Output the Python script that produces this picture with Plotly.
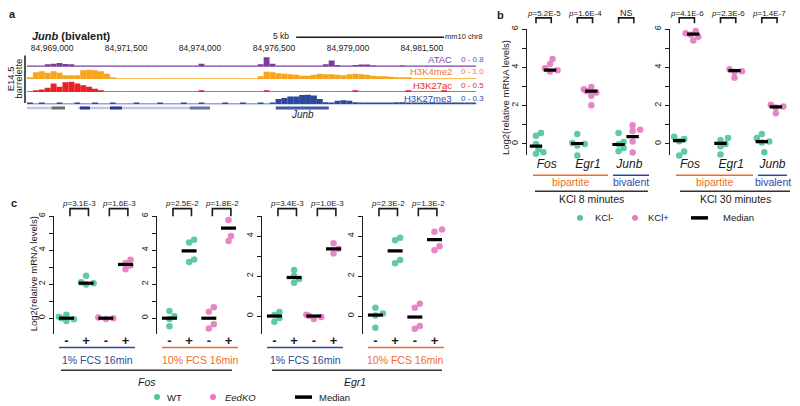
import plotly.graph_objects as go

W, H = 800, 406
FONT = "Liberation Sans, Arial, Helvetica, sans-serif"
INK = "#1a1a1a"
GREEN = "#4fc39b"
PINK = "#e679bf"
ORANGE = "#f26b2b"
BLUE = "#2e48a2"

# ---------------- panel a : genome browser tracks ----------------
GENOME_START = 84968150
GENOME_END = 84983330
BIN_BP = 200
coord_ticks = [84969000, 84971500, 84974000, 84976500, 84979000, 84981500]
track_names = ["ATAC", "H3K4me2", "H3K27ac", "H3K27me3"]
track_scales = ["0 - 0.8", "0 - 1.0", "0 - 0.5", "0 - 0.3"]
track_max = [0.8, 1.0, 0.5, 0.3]
track_fill = ["#7b3c9e", "#f8a51d", "#ec1f27", "#2b49a0"]
track_label_color = ["#8446a8", "#f37331", "#ec1f27", "#2b49a0"]

atac = [0.06, 0.06, 0.08, 0.2, 0.25, 0.3, 0.22, 0.2, 0.08, 0.06,
        0.06, 0.06, 0.06, 0.06, 0.06, 0.06, 0.06, 0.06, 0.06, 0.06,
        0.06, 0.06, 0.06, 0.06, 0.06, 0.06, 0.06, 0.06, 0.08, 0.25,
        0.06, 0.06, 0.06, 0.06, 0.06, 0.06, 0.06, 0.06, 0.1, 0.2,
        0.75, 0.25, 0.1, 0.06, 0.08, 0.06, 0.06, 0.06, 0.06, 0.08,
        0.2, 0.5, 0.15, 0.06, 0.06, 0.15, 0.18, 0.18, 0.12, 0.06,
        0.06, 0.06, 0.06, 0.12, 0.06, 0.06, 0.06, 0.06, 0.06, 0.06,
        0.1, 0.06, 0.06, 0.08, 0.06, 0.06]
h3k4me2 = [0.15, 0.7, 0.8, 0.65, 0.8, 0.65, 0.4, 0.4, 0.4, 0.9,
           0.95, 0.9, 0.8, 0.55, 0.2, 0.05, 0.05, 0.05, 0.05, 0.05,
           0.05, 0.05, 0.05, 0.05, 0.05, 0.05, 0.05, 0.05, 0.05, 0.05,
           0.05, 0.05, 0.05, 0.05, 0.05, 0.05, 0.05, 0.05, 0.05, 0.3,
           0.75, 0.7, 0.6, 0.55, 0.5, 0.45, 0.35, 0.35, 0.45, 0.55,
           0.5, 0.5, 0.45, 0.4, 0.5, 0.55, 0.5, 0.45, 0.35, 0.3,
           0.3, 0.25, 0.2, 0.15, 0.1, 0.05, 0.05, 0.05, 0.05, 0.05,
           0.05, 0.05, 0.05, 0.05, 0.05, 0.05]
h3k27ac = [0.03, 0.05, 0.12, 0.2, 0.4, 0.25, 0.45, 0.48, 0.4, 0.32,
           0.25, 0.15, 0.06, 0.04, 0.03, 0.03, 0.03, 0.03, 0.03, 0.03,
           0.03, 0.03, 0.03, 0.03, 0.03, 0.03, 0.03, 0.03, 0.03, 0.05,
           0.03, 0.03, 0.03, 0.03, 0.03, 0.03, 0.03, 0.03, 0.03, 0.03,
           0.08, 0.03, 0.03, 0.03, 0.03, 0.03, 0.03, 0.03, 0.03, 0.03,
           0.03, 0.03, 0.03, 0.03, 0.03, 0.05, 0.03, 0.03, 0.03, 0.03,
           0.03, 0.03, 0.03, 0.03, 0.05, 0.03, 0.03, 0.03, 0.03, 0.03,
           0.05, 0.03, 0.03, 0.03, 0.03, 0.03]
h3k27me3 = [0.03, 0.02, 0.03, 0.02, 0.02, 0.03, 0.02, 0.02, 0.03, 0.02,
            0.02, 0.03, 0.02, 0.02, 0.03, 0.02, 0.02, 0.02, 0.03, 0.02,
            0.02, 0.02, 0.03, 0.02, 0.02, 0.02, 0.03, 0.02, 0.02, 0.03,
            0.02, 0.02, 0.02, 0.03, 0.02, 0.02, 0.03, 0.02, 0.02, 0.03,
            0.02, 0.04, 0.15, 0.18, 0.22, 0.22, 0.26, 0.27, 0.25, 0.15,
            0.06, 0.04, 0.1, 0.12, 0.1, 0.06, 0.05, 0.04, 0.03, 0.04,
            0.03, 0.04, 0.06, 0.06, 0.04, 0.03, 0.05, 0.03, 0.06, 0.04,
            0.03, 0.05, 0.03, 0.04, 0.05, 0.03]
track_values = [atac, h3k4me2, h3k27ac, h3k27me3]

transcript_starts = [84968150, 84969873, 84976561]
transcript_ends = [84969434, 84974332, 84978352]
exon_starts = [84968984, 84969940, 84970954, 84973656, 84976561]
exon_ends = [84969434, 84970278, 84971359, 84974332, 84978352]
exon_colors = ["#6e6e6e", "#26378c", "#26378c", "#6a74a8", "#4a5aa2"]
scale_bar_start = 84977250
scale_bar_bp = 5000

# ---------------- panel b : KCl stimulation ----------------
b_genes = ["Fos", "Egr1", "Junb"]
kcl8_minus = [[0.57, 0.43, 0.0, -0.26, -0.43, -0.52],
              [0.52, 0.05, 0.0, -0.08, -0.6],
              [0.57, 0.1, -0.02, -0.22, -0.38]]
kcl8_plus = [[4.43, 4.17, 3.95, 3.85, 3.78],
             [2.97, 2.86, 2.76, 2.68, 2.52, 2.02],
             [0.98, 0.74, 0.68, 0.12, -0.45]]
kcl8_median_minus = [-0.12, 0.02, -0.03]
kcl8_median_plus = [3.85, 2.76, 0.38]
kcl8_p = ["<i>p</i>=5.2E-5", "<i>p</i>=1.6E-4", "NS"]

kcl30_minus = [[0.38, 0.26, 0.14, -0.4, -0.6],
               [0.31, 0.2, 0.0, -0.12, -0.55],
               [0.52, 0.31, 0.12, 0.08, -0.43, -0.69]]
kcl30_plus = [[5.9, 5.78, 5.7, 5.6, 5.4],
              [3.9, 3.8, 3.75, 3.45],
              [2.05, 1.95, 1.9, 1.6]]
kcl30_median_minus = [0.17, 0.03, 0.12]
kcl30_median_plus = [5.74, 3.83, 1.93]
kcl30_p = ["<i>p</i>=4.1E-6", "<i>p</i>=2.3E-6", "<i>p</i>=1.4E-7"]

# ---------------- panel c : FCS stimulation ----------------
c_tick_text = ["-", "+", "-", "+"]
c_group_colors = [GREEN, GREEN, PINK, PINK]
fos_1pct = [[0.2, 0.08, 0.0, -0.06, -0.17], [2.5, 2.12, 2.05, 1.98],
            [0.04, 0.0, -0.05], [3.44, 3.25, 3.1, 2.88]]
fos_1pct_median = [0.0, 2.06, 0.0, 3.16]
fos_1pct_p = ["<i>p</i>=3.1E-3", "<i>p</i>=1.6E-3"]
fos_10pct = [[0.43, 0.12, -0.05, -0.47], [4.62, 4.45, 3.45, 3.3],
             [0.65, 0.38, -0.35, -0.6], [5.77, 4.83, 4.54]]
fos_10pct_median = [0.0, 3.96, 0.0, 5.3]
fos_10pct_p = ["<i>p</i>=2.5E-2", "<i>p</i>=1.8E-2"]
egr1_1pct = [[0.2, 0.05, -0.1, -0.28], [2.3, 2.0, 1.85, 1.67],
             [0.07, 0.02, -0.05, -0.15], [3.64, 3.37, 3.14]]
egr1_1pct_median = [0.0, 1.93, 0.0, 3.36]
egr1_1pct_p = ["<i>p</i>=3.4E-3", "<i>p</i>=1.0E-3"]
egr1_10pct = [[0.41, 0.13, 0.03, -0.58], [3.92, 3.8, 2.81, 2.64],
              [0.61, 0.41, -0.5, -0.63], [4.33, 4.22, 3.5, 3.3]]
egr1_10pct_median = [0.05, 3.26, -0.05, 3.83]
egr1_10pct_p = ["<i>p</i>=2.3E-2", "<i>p</i>=1.3E-2"]
c_panels = [fos_1pct, fos_10pct, egr1_1pct, egr1_10pct]
c_medians = [fos_1pct_median, fos_10pct_median, egr1_1pct_median, egr1_10pct_median]
c_pvals = [fos_1pct_p, fos_10pct_p, egr1_1pct_p, egr1_10pct_p]
c_yranges = [[-0.93, 6.0], [-0.93, 6.0], [-0.9, 5.0], [-0.9, 5.0]]
c_labels = ["1% FCS 16min", "10% FCS 16min", "1% FCS 16min", "10% FCS 16min"]
c_label_colors = [BLUE, ORANGE, BLUE, ORANGE]
c_genes = ["Fos", "Egr1"]


# ---------------- helpers ----------------
def X(a, b):
    return [a / W, b / W]


def Y(top, bot):
    return [1 - bot / H, 1 - top / H]


def swarm(vals, ppy, ppx, d=5.5):
    order = sorted(range(len(vals)), key=lambda i: vals[i])
    placed = []
    offs = [0.0] * len(vals)
    for i in order:
        yy = vals[i] * ppy
        c = 0
        for c in (0, 2.5, -2.5, 5, -5, 7.5, -7.5):
            if all((c - a) ** 2 + (yy - b) ** 2 >= d * d for a, b in placed):
                break
        placed.append((c, yy))
        offs[i] = c / ppx
    return offs


annotations = []
shapes = []


def txt(x, y, s, size, color=INK, xanchor="center", angle=0, xref="paper"):
    annotations.append(dict(
        xref=xref, yref="paper", x=(x / W if xref == "paper" else x), y=1 - y / H,
        text=s, showarrow=False, xanchor=xanchor, yanchor="middle",
        font=dict(family=FONT, size=size, color=color), textangle=angle))


def hline(x0, x1, y, color, width):
    shapes.append(dict(type="line", xref="paper", yref="paper", x0=x0 / W, x1=x1 / W,
                       y0=1 - y / H, y1=1 - y / H, line=dict(color=color, width=width)))


def dot(cx, cy, color, r=3):
    shapes.append(dict(type="circle", xref="paper", yref="paper",
                       x0=(cx - r) / W, x1=(cx + r) / W, y0=1 - (cy + r) / H, y1=1 - (cy - r) / H,
                       fillcolor=color, line=dict(width=0)))


def bracket(xref, xa, xb, ytop, ybot):
    shapes.append(dict(type="path", xref=xref, yref="paper",
                       path=f"M {xa},{1 - ybot / H} L {xa},{1 - ytop / H} L {xb},{1 - ytop / H} L {xb},{1 - ybot / H}",
                       line=dict(color=INK, width=1.6)))


fig = go.Figure()
layout = dict(width=W, height=H, margin=dict(l=0, r=0, t=0, b=0),
              paper_bgcolor="white", plot_bgcolor="white", showlegend=False,
              barmode="overlay", font=dict(family=FONT, size=10, color=INK))

# ---------------- panel a ----------------
layout["xaxis"] = dict(domain=X(27, 476), range=[GENOME_START, GENOME_END], anchor="y", side="top",
                       tickvals=coord_ticks, tickformat=",d", ticks="", showline=False, showgrid=False,
                       zeroline=False, tickfont=dict(size=8.5, color=INK), fixedrange=True,
                       ticklabelstandoff=3)
track_doms = [(53, 63.5), (66, 76), (78, 89), (90.5, 101.5)]
yids = ["y", "y2", "y3", "y4"]
for k in range(4):
    key = "yaxis" if k == 0 else f"yaxis{k + 1}"
    layout[key] = dict(domain=Y(*track_doms[k]), range=[0, track_max[k]], anchor="x", visible=False)
    vals = track_values[k]
    centers = [GENOME_START + BIN_BP * (i + 0.5) for i in range(len(vals))]
    fig.add_trace(go.Bar(x=centers, y=vals, width=BIN_BP, marker=dict(color=track_fill[k], line=dict(width=0)),
                         xaxis="x", yaxis=yids[k], hoverinfo="skip", name=track_names[k]))
layout["yaxis5"] = dict(domain=Y(102, 108), range=[0, 1], anchor="x", visible=False)
tx, ty = [], []
for s, e in zip(transcript_starts, transcript_ends):
    tx += [s, e, None]
    ty += [0.5, 0.5, None]
fig.add_trace(go.Scatter(x=tx, y=ty, mode="lines", line=dict(color="#c3c8e2", width=2.5),
                         xaxis="x", yaxis="y5", hoverinfo="skip"))
for s, e, c in zip(exon_starts, exon_ends, exon_colors):
    fig.add_trace(go.Scatter(x=[s, e], y=[0.5, 0.5], mode="lines", line=dict(color=c, width=3),
                             xaxis="x", yaxis="y5", hoverinfo="skip"))

txt(12, 10, "<b>a</b>", 11)
txt(30, 32, "<b><i>Junb</i> (bivalent)</b>", 11, xanchor="left")
txt(291, 32.5, "5 kb", 8.5, xanchor="right")
shapes.append(dict(type="line", xref="x", yref="paper", x0=scale_bar_start, x1=scale_bar_start + scale_bar_bp,
                   y0=1 - 33.5 / H, y1=1 - 33.5 / H, line=dict(color=INK, width=1.5)))
txt(443, 32.5, "mm10 chr8", 7.5, xanchor="left")
label_y = [56, 68.5, 82, 95]
for k in range(4):
    txt(454, label_y[k], track_names[k], 9.5, color=track_label_color[k], xanchor="right")
    txt(459, label_y[k], track_scales[k], 8, color=track_label_color[k], xanchor="left")
txt(302, 112, "<i>Junb</i>", 10)
txt(10, 76, "E14.5", 9.5, angle=-90)
txt(18.5, 76, "barrelette", 9.5, angle=-90)
shapes.append(dict(type="line", xref="paper", yref="paper", x0=25 / W, x1=25 / W,
                   y0=1 - 100 / H, y1=1 - 52 / H, line=dict(color=INK, width=1.5)))

# ---------------- panel b ----------------
B_UNIT = 41.3
B_PPY = 19.33
b_specs = [("x6", "y6", 527, 543.0, kcl8_minus, kcl8_plus, kcl8_median_minus, kcl8_median_plus, kcl8_p),
           ("x7", "y7", 670, 686.2, kcl30_minus, kcl30_plus, kcl30_median_minus, kcl30_median_plus, kcl30_p)]
for xid, yid, ax0, zero_px, minus, plus, mmed, pmed, pv in b_specs:
    n = xid[1:]
    layout[f"xaxis{n}"] = dict(domain=X(ax0, ax0 + 125), range=[(ax0 - zero_px) / B_UNIT, (ax0 + 125 - zero_px) / B_UNIT],
                               anchor=yid, tickvals=[g + 0.09 for g in range(3)],
                               ticktext=[f"<i>{g}</i>" for g in b_genes], ticks="", showline=False,
                               showgrid=False, zeroline=False, tickfont=dict(size=12, color=INK))
    layout[f"yaxis{n}"] = dict(domain=Y(25.3, 152.9), range=[-0.6, 6.0], anchor=xid, showline=True,
                               linecolor=INK, linewidth=1.3, ticks="outside", ticklen=4, tickwidth=1,
                               tickcolor=INK, tickvals=list(range(7)), ticktext=["0", "", "2", "", "4", "", "6"],
                               tickangle=-90, tickfont=dict(size=9, color=INK), showgrid=False, zeroline=False)
    for sign, groups, color in ((-1, minus, GREEN), (1, plus, PINK)):
        xs, ys = [], []
        for g, vals in enumerate(groups):
            offs = swarm(vals, B_PPY, B_UNIT)
            xs += [g + sign * 0.17 + o for o in offs]
            ys += vals
        fig.add_trace(go.Scatter(x=xs, y=ys, mode="markers", xaxis=xid, yaxis=yid, cliponaxis=False,
                                 marker=dict(color=color, size=6.5, opacity=0.9, line=dict(width=0)),
                                 hoverinfo="skip"))
    mx, my = [], []
    for g in range(3):
        for sign, med in ((-1, mmed[g]), (1, pmed[g])):
            c = g + sign * 0.17
            mx += [c - 0.15, c + 0.15, None]
            my += [med, med, None]
    fig.add_trace(go.Scatter(x=mx, y=my, mode="lines", xaxis=xid, yaxis=yid, cliponaxis=False,
                             line=dict(color="black", width=3.2), hoverinfo="skip"))
    for g in range(3):
        bracket(xid, g - 0.17, g + 0.2, 14, 19.5)
        txt(g + 0.015, 9.5, pv[g], 8 if pv[g] != "NS" else 9, xref=xid)

txt(500, 11, "<b>b</b>", 11)
txt(505, 95, "Log2(relative mRNA levels)", 9.5, angle=-90)
hline(533, 608, 173, ORANGE, 1.5)
hline(613, 649, 173, BLUE, 1.5)
hline(676, 753, 173, ORANGE, 1.5)
hline(758, 787, 173, BLUE, 1.5)
txt(570.5, 179.5, "bipartite", 10.5, color=ORANGE)
txt(631, 179.5, "bivalent", 10.5, color=BLUE)
txt(714.5, 179.5, "bipartite", 10.5, color=ORANGE)
txt(773, 179.5, "bivalent", 10.5, color=BLUE)
hline(535, 648, 189, "#333333", 1.5)
hline(680, 790, 189, "#333333", 1.5)
txt(591.5, 196.5, "KCl 8 minutes", 10.5)
txt(735, 196.5, "KCl 30 minutes", 10.5)
dot(580, 216, GREEN)
txt(593, 216, "KCl-", 9.5, xanchor="left")
dot(635, 216, PINK)
txt(646, 216, "KCl+", 9.5, xanchor="left")
hline(691, 708, 216, "black", 3.5)
txt(721, 216, "Median", 9.5, xanchor="left")

# ---------------- panel c ----------------
C_UNIT = 19.7
c_axis_x = [54, 157, 262, 363]
for k in range(4):
    n = 8 + k
    xid, yid = f"x{n}", f"y{n}"
    x0 = c_axis_x[k]
    yr = c_yranges[k]
    top_tick = int(yr[1])
    layout[f"xaxis{n}"] = dict(domain=X(x0, x0 + 90), range=[-0.63, -0.63 + 90 / C_UNIT], anchor=yid,
                               tickvals=[0, 1, 2, 3], ticktext=[f"<b>{t}</b>" for t in c_tick_text],
                               ticks="", showline=False, showgrid=False, zeroline=False,
                               tickfont=dict(size=13, color=INK), ticklabelstandoff=-3)
    layout[f"yaxis{n}"] = dict(domain=Y(214.3, 333.3), range=yr, anchor=xid, showline=True,
                               linecolor=INK, linewidth=1.3, ticks="outside", ticklen=4, tickwidth=1,
                               tickcolor=INK, tickvals=list(range(top_tick + 1)),
                               ticktext=[str(v) if v % 2 == 0 else "" for v in range(top_tick + 1)],
                               tickangle=-90, tickfont=dict(size=9, color=INK), showgrid=False, zeroline=False)
    ppy = 119.0 / (yr[1] - yr[0])
    for color in (GREEN, PINK):
        xs, ys = [], []
        for i, vals in enumerate(c_panels[k]):
            if c_group_colors[i] != color:
                continue
            offs = swarm(vals, ppy, C_UNIT)
            xs += [i + o for o in offs]
            ys += vals
        fig.add_trace(go.Scatter(x=xs, y=ys, mode="markers", xaxis=xid, yaxis=yid, cliponaxis=False,
                                 marker=dict(color=color, size=6.5, opacity=0.9, line=dict(width=0)),
                                 hoverinfo="skip"))
    mx, my = [], []
    for i, med in enumerate(c_medians[k]):
        mx += [i - 0.38, i + 0.38, None]
        my += [med, med, None]
    fig.add_trace(go.Scatter(x=mx, y=my, mode="lines", xaxis=xid, yaxis=yid, cliponaxis=False,
                             line=dict(color="black", width=3.2), hoverinfo="skip"))
    for j in range(2):
        bracket(xid, 2 * j + 0.18, 2 * j + 1.12, 206.7, 214.3)
        txt(2 * j + 0.65, 201.7, c_pvals[k][j], 8, xref=xid)
    hline(x0 + 5, x0 + 81, 347, c_label_colors[k], 1.5)
    txt(x0 + 43, 360, c_labels[k], 10.5, color=c_label_colors[k])

txt(14, 201, "<b>c</b>", 11)
txt(33, 273, "Log2(relative mRNA levels)", 9.5, angle=-90)
hline(61, 232, 370, "#333333", 1.5)
hline(272, 442, 370, "#333333", 1.5)
txt(147, 382, f"<i>{c_genes[0]}</i>", 10.5)
txt(355, 382, f"<i>{c_genes[1]}</i>", 10.5)
dot(157, 397, GREEN)
txt(165, 397, "WT", 9.5, xanchor="left")
dot(213, 397, PINK)
txt(223, 397, "<i>EedKO</i>", 9.5, xanchor="left")
hline(295, 312, 397, "black", 3.5)
txt(317, 397, "Median", 9.5, xanchor="left")

layout["annotations"] = annotations
layout["shapes"] = shapes
fig.update_layout(**layout)
fig.write_html("out.html", config={"displayModeBar": False},
               post_script="document.body.style.margin='0';document.body.style.padding='0';"
                           "document.body.style.overflow='hidden';")
